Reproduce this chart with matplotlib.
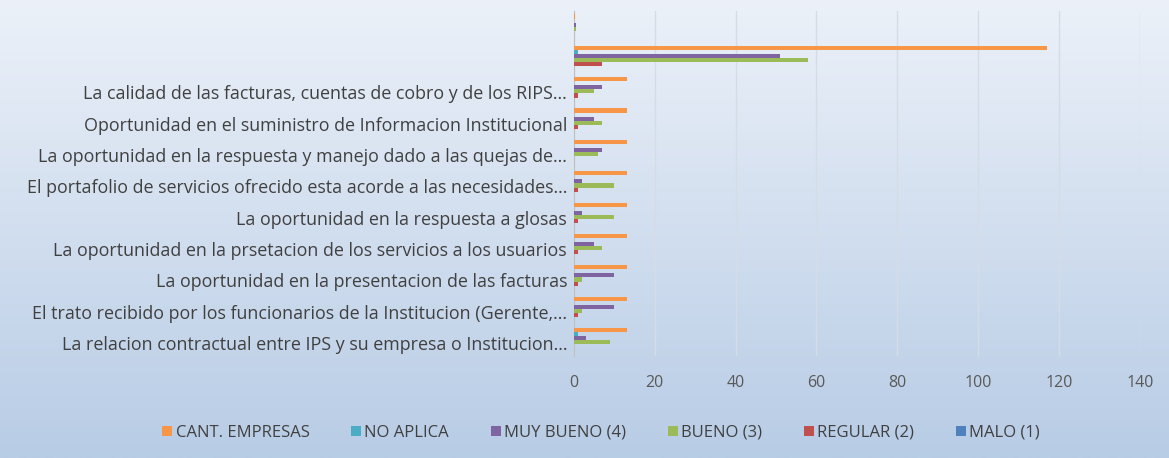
import numpy as np
import matplotlib.pyplot as plt
import matplotlib.transforms as mtransforms

plt.rcParams['font.family'] = ['Open Sans', 'DejaVu Sans']

# categorias (de abajo hacia arriba, como en Excel)
categorias = [
    'La relacion contractual entre IPS y su empresa o Institucion...',
    'El trato recibido por los funcionarios de la Institucion (Gerente,...',
    'La oportunidad en la presentacion de las facturas',
    'La oportunidad en la prsetacion de los servicios a los usuarios',
    'La oportunidad en la respuesta a glosas',
    'El portafolio de servicios ofrecido esta acorde a las necesidades...',
    'La oportunidad en la respuesta y manejo dado a las quejas de...',
    'Oportunidad en el suministro de Informacion Institucional',
    'La calidad de las facturas, cuentas de cobro y de los RIPS...',
    '',
    '',
]

malo = [0, 0, 0, 0, 0, 0, 0, 0, 0, 0, 0]
regular = [0, 1, 1, 1, 1, 1, 0, 1, 1, 7, 0.06]
bueno = [9, 2, 2, 7, 10, 10, 6, 7, 5, 58, 0.5]
muy_bueno = [3, 10, 10, 5, 2, 2, 7, 5, 7, 51, 0.44]
no_aplica = [1, 0, 0, 0, 0, 0, 0, 0, 0, 1, 0.01]
cant_empresas = [13, 13, 13, 13, 13, 13, 13, 13, 13, 117, 0.3]

series = [
    ('MALO (1)', malo, '#4F81BD'),
    ('REGULAR (2)', regular, '#C0504D'),
    ('BUENO (3)', bueno, '#9BBB59'),
    ('MUY BUENO (4)', muy_bueno, '#8064A2'),
    ('NO APLICA', no_aplica, '#4BACC6'),
    ('CANT. EMPRESAS', cant_empresas, '#F79646'),
]

fig = plt.figure(figsize=(11.69, 4.58), dpi=100)

# fondo degradado azul
bg = fig.add_axes([0, 0, 1, 1], zorder=-10)
grad = np.linspace(0, 1, 256).reshape(-1, 1)
top = np.array([0.925, 0.945, 0.975])
bottom = np.array([0.72, 0.80, 0.90])
img = top + (bottom - top) * grad[:, :, None]
bg.imshow(img, aspect='auto', extent=[0, 1, 0, 1])
bg.axis('off')

ax = fig.add_axes([0.491, 0.223, 0.484, 0.753])
ax.patch.set_alpha(0)

y = np.arange(len(categorias))
h = 0.13
n = len(series)
for i, (nombre, vals, color) in enumerate(series):
    off = (i - (n - 1) / 2) * h
    ax.barh(y + off, vals, height=h, color=color, label=nombre, zorder=3)

ax.set_xlim(0, 140)
ax.set_ylim(-0.5, len(categorias) - 0.5)
ax.set_xticks(range(0, 141, 20))
ax.set_yticks(y)
ax.set_yticklabels(categorias, fontsize=12.9, color='#404040')
ax.tick_params(axis='x', labelsize=11.5, colors='#595959', length=0, pad=14)
ax.tick_params(axis='y', length=0, pad=5)
# bajar un poco las etiquetas como en el original
offset = mtransforms.ScaledTranslation(0, -0.03, fig.dpi_scale_trans)
for t in ax.get_yticklabels():
    t.set_transform(t.get_transform() + offset)
ax.grid(axis='x', color='#d6dce6', linewidth=1.0, zorder=0)
for s in ['top', 'right', 'bottom']:
    ax.spines[s].set_visible(False)
ax.spines['left'].set_color('#bfbfbf')

handles, labels = ax.get_legend_handles_labels()
fig.legend(handles[::-1], labels[::-1], loc='center', bbox_to_anchor=(0.514, 0.055),
           ncol=6, frameon=False, fontsize=12, handlelength=0.6, handleheight=0.6,
           handletextpad=0.2, columnspacing=2.5, labelcolor='#404040')

fig.savefig('out.png', dpi=100)
